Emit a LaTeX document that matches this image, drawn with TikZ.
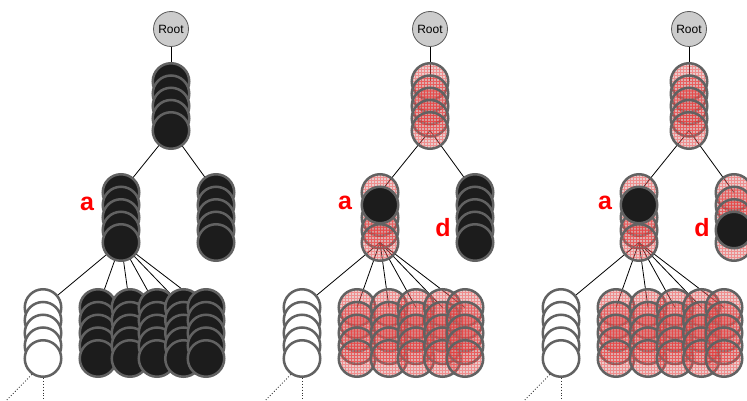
\documentclass[tikz,border=0pt]{standalone}
\usepackage{fontspec}
\setmainfont{Liberation Sans}
\usetikzlibrary{positioning,backgrounds}

\definecolor{ring}{RGB}{98,98,98}
\definecolor{coal}{RGB}{28,28,28}
\definecolor{rosa}{RGB}{200,128,128}

\begin{document}
\begin{tikzpicture}[
    x=1pt, y=-1pt,
    ball/.style={circle, minimum size=36.5pt, inner sep=0pt, line width=2.5pt, draw=ring},
    blk/.style={ball, fill=coal},
    wht/.style={ball, fill=white},
    pnk/.style={ball, fill=rosa, fill opacity=0.4,
        path picture={\draw[red, draw opacity=0.3, line width=0.5pt, step=3pt]
            (path picture bounding box.south west) grid (path picture bounding box.north east);}},
    rootnode/.style={circle, minimum size=35pt, inner sep=0pt, draw=black!65,
        line width=0.8pt, fill=gray!40, font=\fontsize{12}{12}\selectfont},
    link/.style={line width=0.8pt},
    trail/.style={dotted, line width=0.9pt, black!80},
    lab/.style={text=red, font=\fontsize{25}{25}\selectfont\bfseries, inner sep=0pt}
]

\useasboundingbox (0,0) rectangle (747,401);
\clip (0,0) rectangle (747,401);

% ---------- left tree: nothing pruned ----------
\node[rootnode] (r1) at (171,29) {Root};
\foreach \k in {0,...,4}
    \node[blk] (t1-\k) at (171,81.5+12.25*\k) {};
\foreach \k in {0,...,4}
    \node[blk] (a1-\k) at (121,192.5+12.5*\k) {};
\foreach \k in {0,...,4}
    \node[blk] (d1-\k) at (216,192.5+12.5*\k) {};
\foreach \k in {0,...,4}
    \node[wht] (w1-\k) at (43,307.5+12.75*\k) {};
\foreach \x [count=\j] in {98,130,157,183.5,206}
    \foreach \k in {0,...,4}
        \node[blk] (b1-\j-\k) at (\x,307.5+12.75*\k) {};

\node[lab] (la1) at (87,204) {a};

\coordinate (wl1) at (-3,410);
\coordinate (wv1) at (43,410);
\draw[trail] (w1-4.235) -- (wl1);
\draw[trail] (w1-4.south) -- (wv1);

\begin{scope}[on background layer]
\draw[link] (r1.center) -- (t1-0.center);
\draw[link] (t1-4.center) -- (a1-0.center);
\draw[link] (t1-4.center) -- (d1-0.center);
\draw[link] (a1-4.center) -- (w1-0.center);
\foreach \j in {1,...,5}
    \draw[link] (a1-4.center) -- (b1-\j-0.center);
\end{scope}

% ---------- middle tree ----------
\begin{scope}[shift={(259,0)}]
\node[rootnode] (r2) at (171,29) {Root};
\foreach \k in {0,...,4}
    \node[pnk] (t2-\k) at (171,81.5+12.25*\k) {};
\foreach \k in {0,2,3,4}
    \node[pnk] (a2-\k) at (121,192.5+12.5*\k) {};
\node[blk] (a2-1) at (121,205) {};
\foreach \k in {0,...,4}
    \node[blk] (d2-\k) at (216,192.5+12.5*\k) {};
\foreach \k in {0,...,4}
    \node[wht] (w2-\k) at (43,307.5+12.75*\k) {};
\foreach \x [count=\j] in {98,130,157,183.5,206}
    \foreach \k in {0,...,4}
        \node[pnk] (b2-\j-\k) at (\x,307.5+12.75*\k) {};

\node[lab] (la2) at (86,203) {a};
\node[lab] (ld2) at (184,228) {d};

\coordinate (wl2) at (-3,410);
\coordinate (wv2) at (43,410);
\draw[trail] (w2-4.235) -- (wl2);
\draw[trail] (w2-4.south) -- (wv2);

\begin{scope}[on background layer]
\draw[link] (r2.center) -- (t2-0.center);
\draw[link] (t2-4.center) -- (a2-0.center);
\draw[link] (t2-4.center) -- (d2-0.center);
\draw[link] (a2-4.center) -- (w2-0.center);
\foreach \j in {1,...,5}
    \draw[link] (a2-4.center) -- (b2-\j-0.center);
\end{scope}
\end{scope}

% ---------- right tree ----------
\begin{scope}[shift={(518,0)}]
\node[rootnode] (r3) at (171,29) {Root};
\foreach \k in {0,...,4}
    \node[pnk] (t3-\k) at (171,81.5+12.25*\k) {};
\foreach \k in {0,2,3,4}
    \node[pnk] (a3-\k) at (121,192.5+12.5*\k) {};
\node[blk] (a3-1) at (121,205) {};
\foreach \k in {0,1,2,4}
    \node[pnk] (d3-\k) at (216,192.5+12.5*\k) {};
\node[blk] (d3-3) at (216,230) {};
\foreach \k in {0,...,4}
    \node[wht] (w3-\k) at (43,307.5+12.75*\k) {};
\foreach \x [count=\j] in {98,130,157,183.5,206}
    \foreach \k in {0,...,4}
        \node[pnk] (b3-\j-\k) at (\x,307.5+12.75*\k) {};

\node[lab] (la3) at (87,203) {a};
\node[lab] (ld3) at (184,228) {d};

\coordinate (wl3) at (-3,410);
\coordinate (wv3) at (43,410);
\draw[trail] (w3-4.235) -- (wl3);
\draw[trail] (w3-4.south) -- (wv3);

\begin{scope}[on background layer]
\draw[link] (r3.center) -- (t3-0.center);
\draw[link] (t3-4.center) -- (a3-0.center);
\draw[link] (t3-4.center) -- (d3-0.center);
\draw[link] (a3-4.center) -- (w3-0.center);
\foreach \j in {1,...,5}
    \draw[link] (a3-4.center) -- (b3-\j-0.center);
\end{scope}
\end{scope}

\end{tikzpicture}
\end{document}
